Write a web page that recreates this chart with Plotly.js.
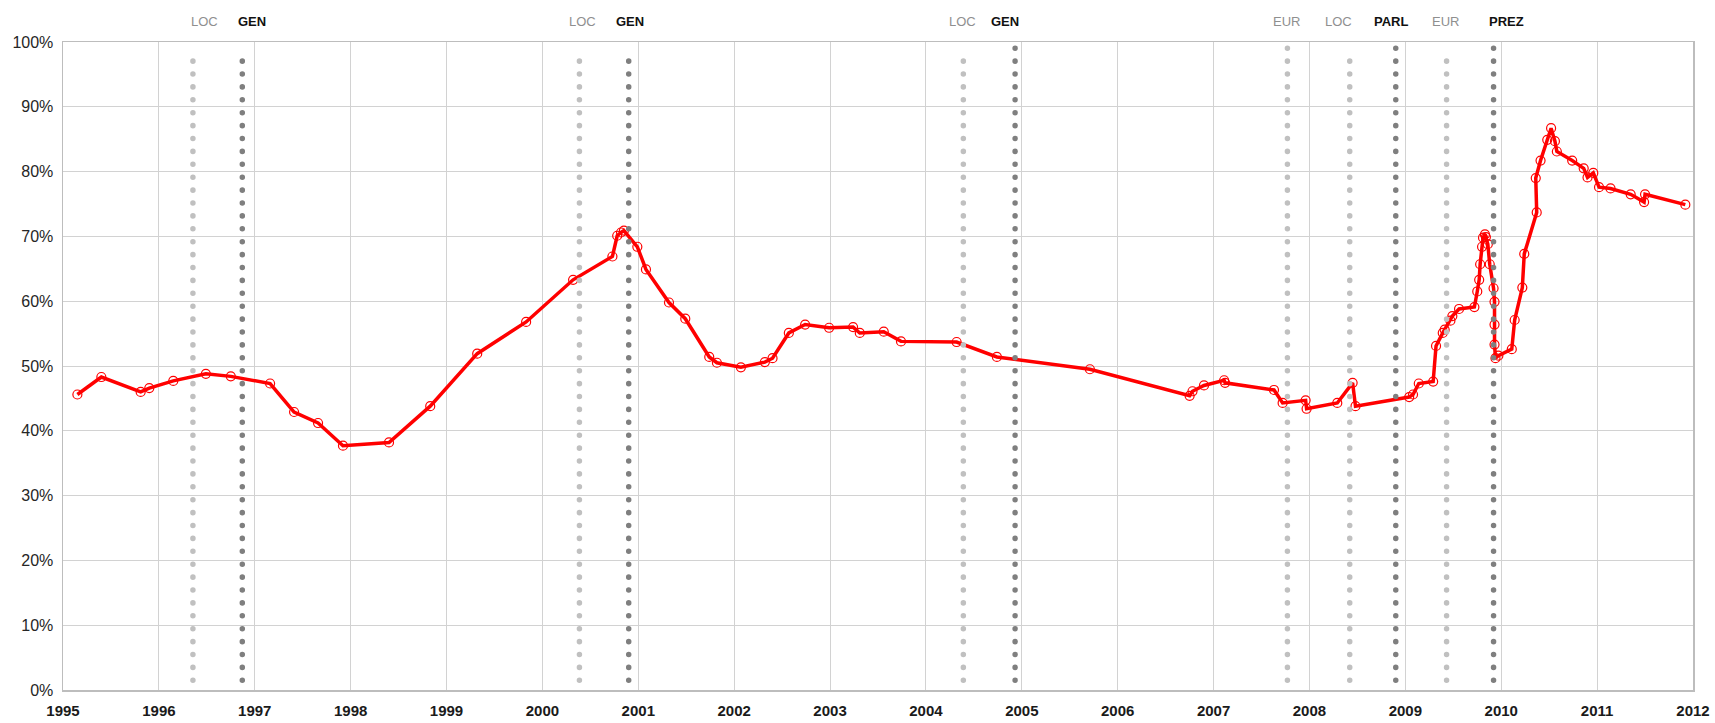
<!DOCTYPE html>
<html>
<head>
<meta charset="utf-8">
<script src="https://cdn.plot.ly/plotly-3.0.1.min.js"></script>
<style>
  html, body { margin: 0; padding: 0; background: #fff; }
  #chart { width: 1715px; height: 723px; }
</style>
</head>
<body>
<div id="chart"></div>
<script>
// ---- Series: time (decimal year) and value (%) ----
const dates = [
  1995.15, 1995.40, 1995.81, 1995.90, 1996.15, 1996.49, 1996.75, 1997.16, 1997.41, 1997.66,
  1997.92, 1998.40, 1998.83, 1999.32, 1999.83, 2000.32, 2000.73, 2000.78, 2000.82, 2000.85,
  2000.99, 2001.08, 2001.32, 2001.49, 2001.74, 2001.82, 2002.07, 2002.32, 2002.40, 2002.57,
  2002.74, 2002.99, 2003.24, 2003.31, 2003.56, 2003.74, 2004.32, 2004.74, 2005.71, 2006.75,
  2006.78, 2006.90, 2007.11, 2007.12, 2007.63, 2007.72, 2007.96, 2007.97, 2008.29, 2008.45,
  2008.48, 2009.04, 2009.08, 2009.14, 2009.29, 2009.32, 2009.39, 2009.41, 2009.47, 2009.49,
  2009.56, 2009.72, 2009.75, 2009.77, 2009.78, 2009.80, 2009.81, 2009.83, 2009.84, 2009.86,
  2009.88, 2009.92, 2009.93, 2009.93, 2009.93, 2009.94, 2009.97, 2010.11, 2010.14, 2010.22,
  2010.24, 2010.37, 2010.36, 2010.41, 2010.48, 2010.52, 2010.56, 2010.58, 2010.74, 2010.86,
  2010.90, 2010.96, 2011.02, 2011.14, 2011.35, 2011.49, 2011.50, 2011.92
];
const values = [
  45.6, 48.3, 46.0, 46.6, 47.7, 48.8, 48.4, 47.3, 42.9, 41.2,
  37.7, 38.2, 43.8, 51.9, 56.8, 63.3, 66.9, 70.1, 70.6, 70.9,
  68.4, 64.9, 59.8, 57.3, 51.4, 50.5, 49.8, 50.6, 51.2, 55.1,
  56.4, 55.9, 56.0, 55.1, 55.3, 53.8, 53.7, 51.4, 49.5, 45.4,
  46.1, 47.0, 47.8, 47.4, 46.3, 44.3, 44.7, 43.4, 44.3, 47.4,
  43.8, 45.2, 45.6, 47.3, 47.6, 53.1, 55.1, 55.6, 57.0, 57.7,
  58.8, 59.1, 61.5, 63.3, 65.7, 68.4, 69.8, 70.3, 69.9, 68.8,
  65.7, 62.0, 59.9, 56.4, 53.3, 51.2, 51.6, 52.6, 57.1, 62.1,
  67.3, 73.7, 79.0, 81.7, 84.9, 86.7, 84.7, 83.1, 81.7, 80.5,
  79.1, 79.8, 77.6, 77.4, 76.5, 75.3, 76.5, 74.9
];

// ---- Elections ----
const electionNames = ['LOC', 'GEN', 'LOC', 'GEN', 'LOC', 'GEN', 'EUR', 'LOC', 'PARL', 'EUR', 'PREZ'];
const electionDates = [1996.355, 1996.87, 2000.386, 2000.90, 2004.39, 2004.93, 2007.77, 2008.42, 2008.90, 2009.43, 2009.92];
const electionMajor = [false, true, false, true, false, true, false, false, true, false, true];

// ---- Axis tick labels ----
const yearTicks = [1995, 1996, 1997, 1998, 1999, 2000, 2001, 2002, 2003, 2004, 2005, 2006, 2007, 2008, 2009, 2010, 2011, 2012];
const yearLabels = yearTicks.map(String);
const pctTicks = [0, 10, 20, 30, 40, 50, 60, 70, 80, 90, 100];
const pctLabels = pctTicks.map(v => v + '%');

// ---- Layout helpers (styling only) ----
const labelX = [1996.48, 1996.97, 2000.42, 2000.91, 2004.38, 2004.82, 2007.76, 2008.30, 2008.85, 2009.42, 2010.05];
const lineTop = [98.5, 98.5, 98.5, 98.5, 98.5, 101.5, 101.5, 98.5, 101.5, 98.5, 101.5];
const NARROW = '"Liberation Sans Narrow", "Arial Narrow", "Liberation Sans", Arial, sans-serif';

const shapes = electionDates.map((d, i) => ({
  type: 'line', xref: 'x', yref: 'y', layer: 'above',
  x0: d, x1: d, y0: -0.5, y1: lineTop[i],
  line: { color: electionMajor[i] ? '#7f7f7f' : '#c0c0c0', width: 5.5, dash: '4px,8.8px' }
}));

const annotations = electionNames.map((n, i) => ({
  xref: 'x', yref: 'paper', x: labelX[i], y: 1.032, yanchor: 'middle', xanchor: 'center',
  text: electionMajor[i] ? '<b>' + n + '</b>' : n, showarrow: false,
  font: { family: NARROW, size: 13, color: electionMajor[i] ? '#111111' : '#8f8f8f' }
}));

const trace = {
  type: 'scatter', mode: 'lines+markers',
  x: dates, y: values,
  line: { color: '#ff0000', width: 3.5 },
  marker: { symbol: 'circle-open', size: 9, color: '#ff0000', line: { width: 1.2, color: '#ff0000' } },
  hoverinfo: 'x+y'
};

const layout = {
  width: 1715, height: 723,
  margin: { l: 63, r: 22, t: 42, b: 33 },
  paper_bgcolor: '#ffffff', plot_bgcolor: '#ffffff',
  showlegend: false,
  xaxis: {
    range: [1995, 2012], tickvals: yearTicks, ticktext: yearLabels,
    showgrid: true, gridcolor: '#d2d2d2', gridwidth: 1,
    showline: true, mirror: true, linecolor: '#bdbdbd', linewidth: 1.5,
    zeroline: false, ticks: '', ticklabelstandoff: 6,
    tickfont: { family: NARROW, size: 15, color: '#1a1a1a', weight: 'bold' }
  },
  yaxis: {
    range: [0, 100], tickvals: pctTicks, ticktext: pctLabels,
    showgrid: true, gridcolor: '#d2d2d2', gridwidth: 1,
    showline: true, mirror: true, linecolor: '#bdbdbd', linewidth: 1.5,
    zeroline: false, ticks: '', ticklabelstandoff: 5,
    tickfont: { family: NARROW, size: 16, color: '#262626' }
  },
  shapes: shapes,
  annotations: annotations
};

Plotly.newPlot('chart', [trace], layout, { displayModeBar: false, staticPlot: true }).then(() => {
  document.querySelectorAll('#chart .shapelayer path').forEach(p => {
    p.style.strokeLinecap = 'round';
    p.style.strokeDasharray = '0.1px,12.8px';
  });
});
</script>
</body>
</html>
